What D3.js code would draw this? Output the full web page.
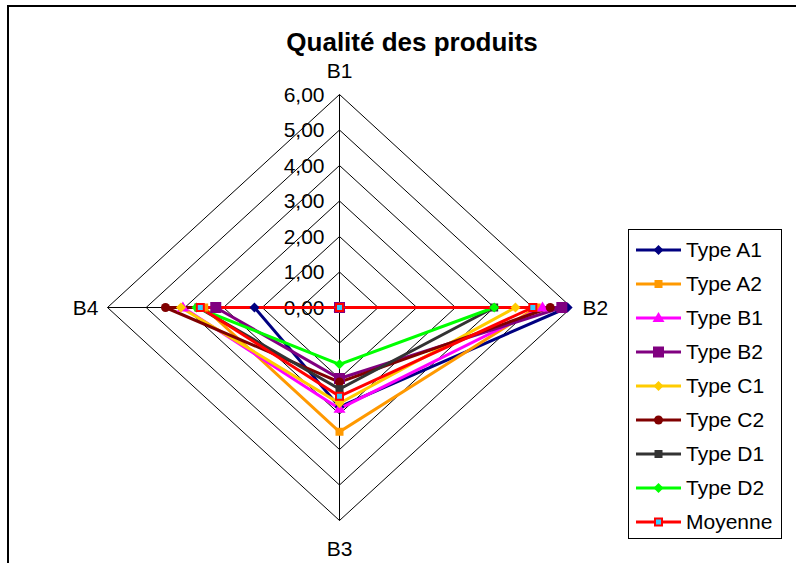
<!DOCTYPE html>
<html><head><meta charset="utf-8">
<script src="https://cdn.jsdelivr.net/npm/d3@7"></script>
<style>body{margin:0;background:#fff}svg{display:block}text{font-family:"Liberation Sans",Arial,sans-serif}</style>
</head><body>
<svg id="c" width="796" height="563"></svg>
<script>
const axes = ["B1","B2","B3","B4"];
const tickValues = [0,1,2,3,4,5,6];
const tickLabels = ["0,00","1,00","2,00","3,00","4,00","5,00","6,00"];
const seriesNames = ["Type A1","Type A2","Type B1","Type B2","Type C1","Type C2","Type D1","Type D2","Moyenne"];
const typeA1 = [0, 5.9, 2.8, 2.2];
const typeA2 = [0, 5.1, 3.5, 3.5];
const typeB1 = [0, 5.25, 2.85, 4.05];
const typeB2 = [0, 5.75, 2.0, 3.2];
const typeC1 = [0, 4.55, 2.7, 4.1];
const typeC2 = [0, 5.45, 2.1, 4.5];
const typeD1 = [0, 4.0, 2.3, 3.65];
const typeD2 = [0, 4.0, 1.6, 3.7];
const moyenne = [0, 5.0, 2.5, 3.6];
const seriesValues = [typeA1,typeA2,typeB1,typeB2,typeC1,typeC2,typeD1,typeD2,moyenne];

const colors = ["#000080","#FF9900","#FF00FF","#800080","#FFCC00","#800000","#333333","#00FF00","#FF0000"];
const markers = ["diamond","square","triangle","bigsquare","diamond","circle","square","diamond","moy"];

const svg = d3.select("#c");
const cx = 339.5, cy = 307.5, rx = 232, ry = 213;
const r = d3.scaleLinear().domain([0,6]).range([0,1]);
const ang = d3.scaleOrdinal().domain(axes).range([0, Math.PI/2, Math.PI, 3*Math.PI/2]);
function pt(axis, v){ const a = ang(axis), k = r(v); return [cx + Math.sin(a)*k*rx, cy - Math.cos(a)*k*ry]; }

// frame
svg.append("path").attr("d","M8,563 L8,6 L796,6").attr("fill","none").attr("stroke","#000").attr("stroke-width",2);

// title
svg.append("text").attr("x",412).attr("y",51).attr("text-anchor","middle").attr("font-size",26).attr("font-weight","bold").text("Qualité des produits");

// grid rings
const g = svg.append("g");
tickValues.slice(1).forEach(t=>{
  const pts = axes.map(a=>pt(a,t));
  g.append("polygon").attr("points",pts.map(p=>p.join(",")).join(" ")).attr("fill","none").attr("stroke","#000").attr("stroke-width",1);
});
axes.forEach(a=>{ const p = pt(a,6); g.append("line").attr("x1",cx).attr("y1",cy).attr("x2",p[0]).attr("y2",p[1]).attr("stroke","#000").attr("stroke-width",1); });

// tick labels
tickValues.forEach((t,i)=>{
  const p = pt("B1",t);
  svg.append("text").attr("x",p[0]-15).attr("y",p[1]).attr("dy","0.35em").attr("text-anchor","end").attr("font-size",21).text(tickLabels[i]);
});

// axis labels
const lab = {B1:[0,-24,"middle"],B2:[11,0,"start"],B3:[0,28,"middle"],B4:[-9,0,"end"]};
axes.forEach(a=>{ const p = pt(a,6), o = lab[a];
  svg.append("text").attr("x",p[0]+o[0]).attr("y",p[1]+o[1]).attr("dy","0.35em").attr("text-anchor",o[2]).attr("font-size",21).text(a);
});

// lines
const line = d3.line().curve(d3.curveLinearClosed);
seriesValues.forEach((vals,i)=>{
  svg.append("path").attr("d", line(vals.map((v,j)=>pt(axes[j],v)))).attr("fill","none").attr("stroke",colors[i]).attr("stroke-width",3).attr("stroke-linejoin","miter");
});

function drawMarker(sel, type, x, y, c){
  if(type==="diamond") sel.append("path").attr("d",`M${x},${y-5}L${x+5},${y}L${x},${y+5}L${x-5},${y}Z`).attr("fill",c);
  else if(type==="square") sel.append("rect").attr("x",x-4).attr("y",y-4).attr("width",8).attr("height",8).attr("fill",c);
  else if(type==="bigsquare") sel.append("rect").attr("x",x-5.5).attr("y",y-5.5).attr("width",11).attr("height",11).attr("fill",c);
  else if(type==="triangle") sel.append("path").attr("d",`M${x},${y-6}L${x+6},${y+4}L${x-6},${y+4}Z`).attr("fill",c);
  else if(type==="circle") sel.append("circle").attr("cx",x).attr("cy",y).attr("r",4.5).attr("fill",c);
  else if(type==="moy") sel.append("rect").attr("x",x-3.5).attr("y",y-3.5).attr("width",7).attr("height",7).attr("fill","#33CCFF").attr("stroke",c).attr("stroke-width",2);
}
const mk = svg.append("g");
seriesValues.forEach((vals,i)=>{
  vals.forEach((v,j)=>{ const p = pt(axes[j],v); drawMarker(mk, markers[i], p[0], p[1], colors[i]); });
});

// legend
const lg = svg.append("g");
lg.append("rect").attr("x",628.5).attr("y",229.5).attr("width",153).attr("height",309).attr("fill","#fff").attr("stroke","#000").attr("stroke-width",1);
const ly = d3.scalePoint().domain(seriesNames).range([250,522]);
seriesNames.forEach((n,i)=>{
  const y = ly(n);
  lg.append("line").attr("x1",636).attr("x2",681).attr("y1",y).attr("y2",y).attr("stroke",colors[i]).attr("stroke-width",3);
  drawMarker(lg, markers[i], 658.5, y, colors[i]);
  lg.append("text").attr("x",686).attr("y",y).attr("dy","0.35em").attr("font-size",21).text(n);
});
</script>
</body></html>
